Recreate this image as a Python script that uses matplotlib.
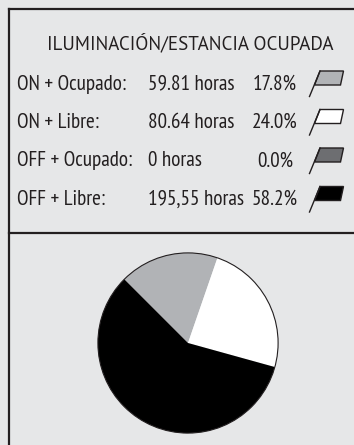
import matplotlib
matplotlib.use("Agg")
import matplotlib.pyplot as plt
from matplotlib.patches import Polygon
from matplotlib.lines import Line2D

# Data
title = "ILUMINACIÓN/ESTANCIA OCUPADA"
categories = ["ON + Ocupado:", "ON + Libre:", "OFF + Ocupado:", "OFF + Libre:"]
hours_text = ["59.81 horas", "80.64 horas", "0 horas", "195,55 horas"]
percents = [17.8, 24.0, 0.0, 58.2]
colors = ["#b1b3b6", "#ffffff", "#6d6e71", "#000000"]

BG = "#e6e7e8"
INK = "#231f20"
TITLE_FONT = ["PT Sans", "DejaVu Sans"]
ROW_FONT = ["PT Sans Narrow", "DejaVu Sans"]

W, H = 354, 445
fig = plt.figure(figsize=(W / 100, H / 100), dpi=100, facecolor=BG)

# Canvas axes in pixel coordinates for the frame and legend
ax = fig.add_axes([0, 0, 1, 1])
ax.set_xlim(0, W)
ax.set_ylim(H, 0)
ax.axis("off")
ax.set_facecolor(BG)

# Frame: left and top borders plus the divider between legend and pie
lw = 1.6
ax.add_line(Line2D([8.5, 8.5], [9, H + 5], color=INK, lw=lw))
ax.add_line(Line2D([8.5, W + 5], [9, 9], color=INK, lw=lw))
ax.add_line(Line2D([8.5, W + 5], [232.5, 232.5], color=INK, lw=lw))

ax.text(190.5, 43, title, ha="center", va="center", fontsize=13.7,
        color=INK, family=TITLE_FONT)

row_y0, row_dy = 84, 38.5
for i, (cat, hrs, pct, col) in enumerate(zip(categories, hours_text, percents, colors)):
    y = row_y0 + i * row_dy
    ax.text(17, y, cat, ha="left", va="center", fontsize=15.2, color=INK, family=ROW_FONT)
    ax.text(148, y, hrs, ha="left", va="center", fontsize=15.2, color=INK, family=ROW_FONT)
    ax.text(275, y, f"{pct:.1f}%", ha="center", va="center", fontsize=15.2,
            color=INK, family=ROW_FONT)
    # flag glyph
    top, bot = y - 13, y + 1
    flag = Polygon([(320, top), (343.5, top), (340.5, bot), (314.5, bot)],
                   closed=True, facecolor=col, edgecolor=INK, lw=1.0)
    ax.add_patch(flag)
    ax.add_line(Line2D([320, 309.5], [top, y + 12.5], color=INK, lw=1.0))

# Pie chart
r_px = 91
cx, cy = 188, 343
pax = fig.add_axes([(cx - r_px) / W, 1 - (cy + r_px) / H, 2 * r_px / W, 2 * r_px / H])
pax.set_facecolor("none")
wedges, _ = pax.pie(percents, colors=colors, startangle=135, counterclock=False,
                    wedgeprops=dict(linewidth=0), radius=1.0)
pax.add_patch(plt.Circle((0, 0), 1.0, fill=False, edgecolor=INK, lw=0.8))
pax.set_xlim(-1.01, 1.01)
pax.set_ylim(-1.01, 1.01)
pax.set_aspect("equal")
pax.axis("off")

fig.savefig("out.png", dpi=100, facecolor=BG)
